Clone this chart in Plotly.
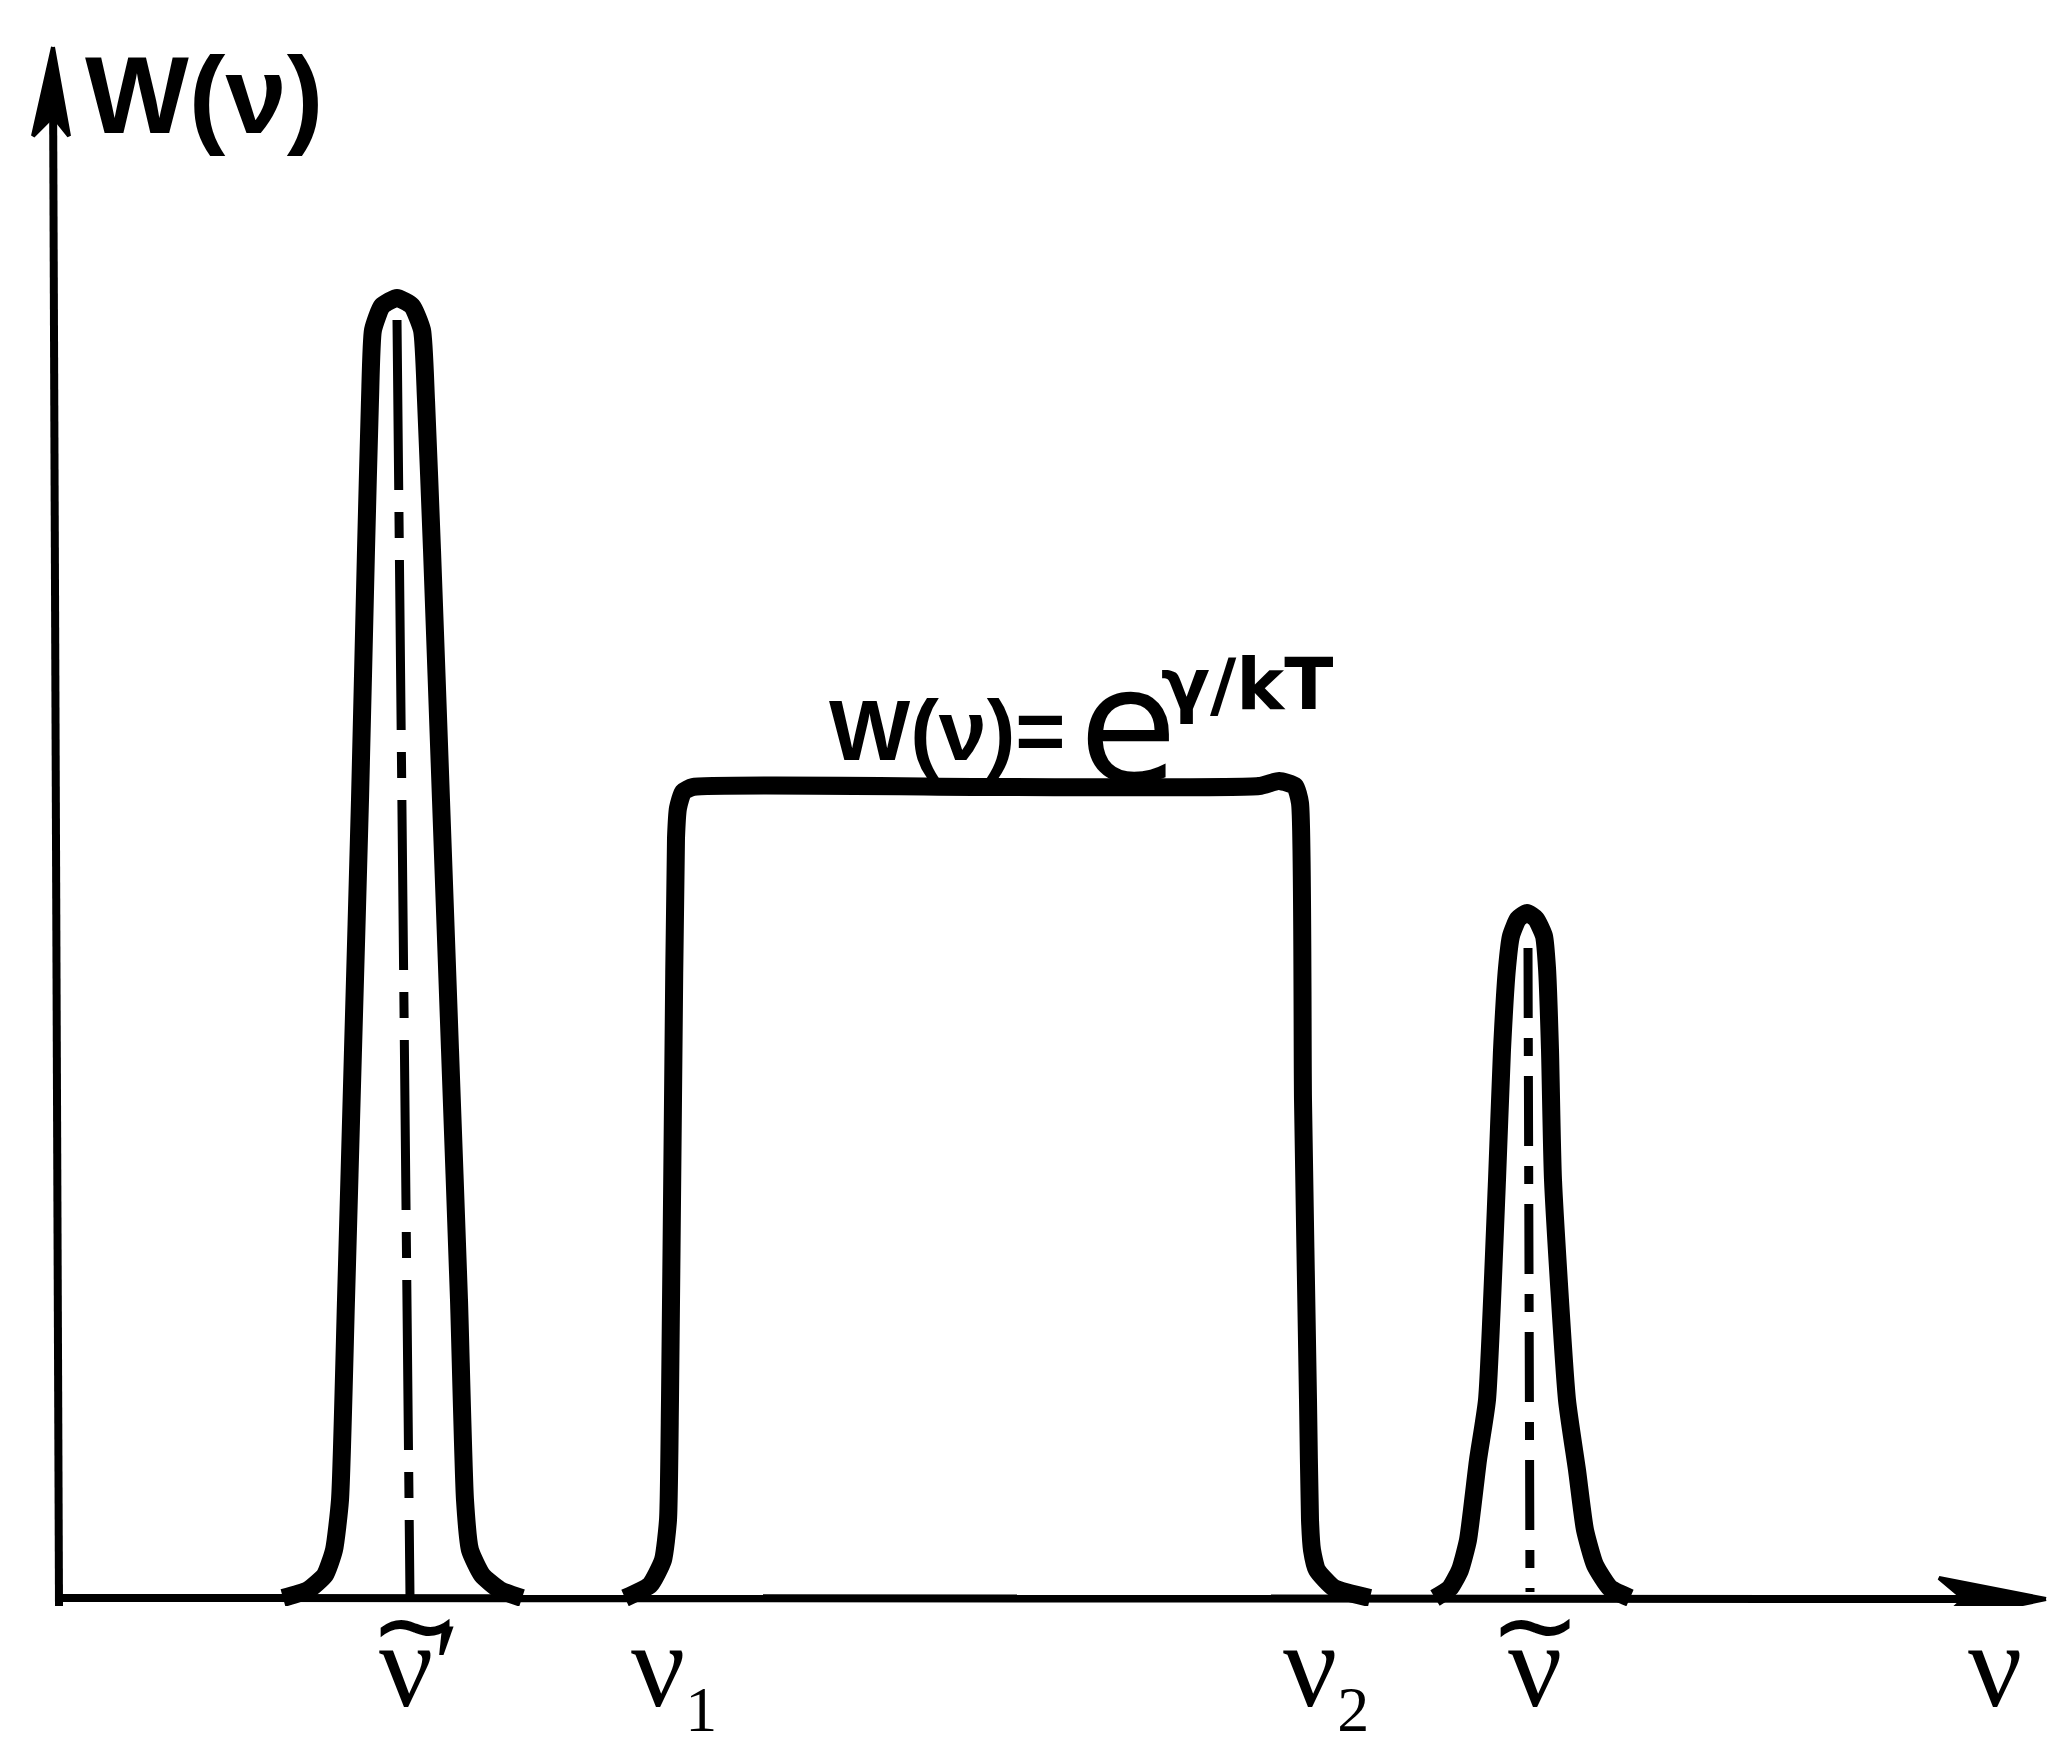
import plotly.graph_objects as go

# ---- data (arbitrary units: ν horizontally, W vertically) ----
# narrow tall line at ν̃′ (outline of the profile)
peak1_nu = [224, 249, 266, 275, 281, 287, 294, 301, 307, 311, 314, 323, 338,
            353, 363, 367, 373, 382, 391, 400, 406, 411, 423, 441, 463]
peak1_w = [0, 8, 23, 48, 98, 298, 548, 798, 1048, 1198, 1268, 1292, 1300,
           1292, 1268, 1198, 1048, 798, 548, 298, 98, 48, 23, 8, 0]

# broad flat band between ν1 and ν2 : W(ν)=e^{γ/kT}
rect_nu = [566, 591, 604, 609, 611, 614, 617, 619, 624, 634, 941, 1200,
           1220, 1236, 1241, 1244, 1249, 1251, 1253, 1258, 1275, 1311]
rect_w = [0, 13, 38, 78, 198, 498, 760, 790, 806, 811, 811, 812,
          817, 812, 795, 498, 198, 78, 48, 28, 10, 0]

# smaller line at ν̃
peak2_nu = [1376, 1391, 1401, 1409, 1419, 1428, 1438, 1443, 1448, 1452, 1459, 1468,
            1477, 1485, 1488, 1491, 1494, 1508, 1518, 1526, 1536, 1551, 1571]
peak2_w = [0, 10, 28, 58, 138, 198, 418, 548, 630, 662, 679, 685,
           679, 662, 630, 548, 418, 198, 128, 68, 33, 10, 0]

# dash-dot centre lines of the two narrow lines
centre1_nu = [338, 351]
centre1_w = [1278, 0]
centre2_nu = [1469, 1471]
centre2_w = [650, 6]

# axis extents and arrow heads
xaxis_nu = [-4, 1960]
xaxis_w = [0, -1]
yaxis_nu = [0, -6]
yaxis_w = [-8, 1520]
yhead_nu = [-6, -26, -6, 10, -6]
yhead_w = [1551, 1462, 1482, 1462, 1551]
xhead_nu = [1987, 1880, 1905, 1880, 1987]
xhead_w = [-1, 20, -1, -24, -1]

# labels on the ν axis
label_nu = [360, 615, 1267, 1476, 1936]
label_text = ["ν′",
              "ν<sub><span style='font-size:64px'>1</span></sub>",
              "ν<sub><span style='font-size:64px'>2</span></sub>",
              "ν", "ν"]
tilde_nu = [356, 1476]          # labels ν̃′ and ν̃ carry a tilde

ylabel_text = "<b>W(ν)</b>"
band_lhs = "<b>W(ν)=</b>"
band_e = "e"
band_exp = "<b>γ/kT</b>"

BLACK = "black"
SANS = "DejaVu Sans"
NARROW = "Liberation Sans"
fig = go.Figure()

for nu, w in [(peak1_nu, peak1_w), (rect_nu, rect_w), (peak2_nu, peak2_w)]:
    fig.add_trace(go.Scatter(x=nu, y=w, mode="lines",
                             line=dict(color=BLACK, width=18, shape="spline", smoothing=0.5),
                             hoverinfo="skip", showlegend=False))

fig.add_trace(go.Scatter(x=centre1_nu, y=centre1_w, mode="lines",
                         line=dict(color=BLACK, width=9, dash="170px,22px,26px,22px"),
                         hoverinfo="skip", showlegend=False))
fig.add_trace(go.Scatter(x=centre2_nu, y=centre2_w, mode="lines",
                         line=dict(color=BLACK, width=9, dash="70px,20px,18px,20px"),
                         hoverinfo="skip", showlegend=False))

# axes
fig.add_trace(go.Scatter(x=xaxis_nu, y=xaxis_w, mode="lines",
                         line=dict(color=BLACK, width=8), hoverinfo="skip", showlegend=False))
fig.add_trace(go.Scatter(x=yaxis_nu, y=yaxis_w, mode="lines",
                         line=dict(color=BLACK, width=8), hoverinfo="skip", showlegend=False))
for hx, hy in [(yhead_nu, yhead_w), (xhead_nu, xhead_w)]:
    fig.add_trace(go.Scatter(x=hx, y=hy, mode="lines", fill="toself", fillcolor=BLACK,
                             line=dict(color=BLACK, width=4), hoverinfo="skip", showlegend=False))

fig.add_annotation(x=24, y=1440, xref="x", yref="y", text=ylabel_text, showarrow=False,
                   xanchor="left", yanchor="bottom",
                   font=dict(family=NARROW, size=110, color=BLACK))
fig.add_annotation(x=768, y=818, xref="x", yref="y", text=band_lhs, showarrow=False,
                   xanchor="left", yanchor="bottom",
                   font=dict(family=NARROW, size=86, color=BLACK))
fig.add_annotation(x=1018, y=776, xref="x", yref="y", text=band_e, showarrow=False,
                   xanchor="left", yanchor="bottom",
                   font=dict(family=SANS, size=160, color=BLACK))
fig.add_annotation(x=1100, y=914, xref="x", yref="y", text=band_exp, showarrow=False,
                   xanchor="left", yanchor="middle",
                   font=dict(family=SANS, size=72, color=BLACK))

for nu, txt in zip(label_nu, label_text):
    fig.add_annotation(x=nu, y=0.0056, xref="x", yref="paper", text=txt, showarrow=False,
                       xanchor="center", yanchor="top",
                       font=dict(family="Liberation Serif", size=120, color=BLACK))
for t in tilde_nu:
    fig.add_annotation(x=t, y=-0.0118, xref="x", yref="paper", text="~", showarrow=False,
                       xanchor="center", yanchor="middle",
                       font=dict(family=SANS, size=110, color=BLACK))

fig.update_layout(
    width=2063, height=1751,
    margin=dict(l=0, r=0, t=0, b=145),
    paper_bgcolor="white", plot_bgcolor="white",
    xaxis=dict(range=[-59, 2004], showgrid=False, zeroline=False, showline=False,
               showticklabels=False, ticks=""),
    yaxis=dict(range=[-8, 1598], showgrid=False, zeroline=False, showline=False,
               showticklabels=False, ticks=""),
)

fig.write_html("out.html")
